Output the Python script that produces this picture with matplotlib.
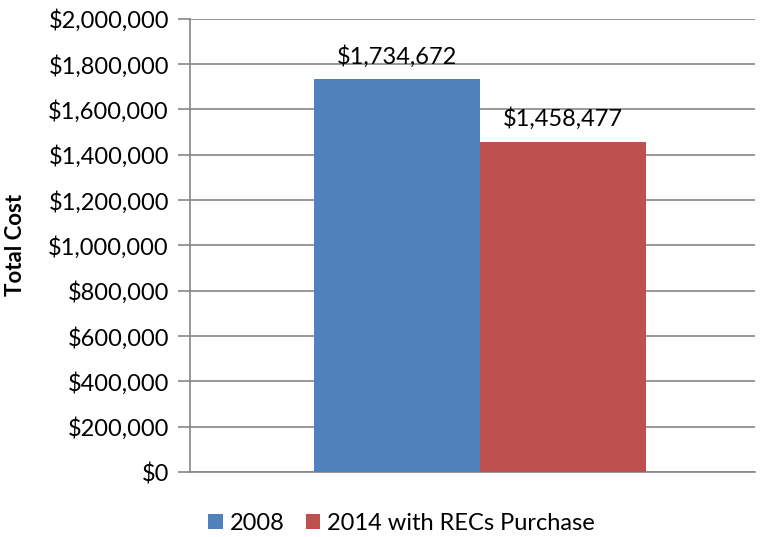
import matplotlib.pyplot as plt
from matplotlib.ticker import FuncFormatter

plt.rcParams['font.family'] = ['Lato', 'DejaVu Sans']

# Data
series = ['2008', '2014 with RECs Purchase']
costs = [1734672, 1458477]
colors = ['#4F81BD', '#C0504D']
label_texts = ['$1,734,672', '$1,458,477']

fig = plt.figure(figsize=(7.62, 5.37), dpi=100)
ax = fig.add_axes([0.249, 0.121, 0.742, 0.844])

positions = [0.366, 0.660]
width = 0.294
for pos, val, col, name, txt in zip(positions, costs, colors, series, label_texts):
    ax.bar(pos, val, width=width, color=col, label=name, zorder=3)
    ax.text(pos, val + 50000, txt, ha='center', va='bottom', fontsize=17, zorder=4)

ax.set_xlim(0, 1)
ax.set_ylim(0, 2000000)
ax.set_yticks(range(0, 2000001, 200000))
ax.yaxis.set_major_formatter(FuncFormatter(lambda v, p: '${:,.0f}'.format(v)))
ax.set_xticks([])
ax.tick_params(axis='y', labelsize=17, length=9, color='#868686', width=1.2, pad=6)
ax.grid(axis='y', color='#868686', linewidth=1.2, zorder=0)
for s in ['top', 'right']:
    ax.spines[s].set_visible(False)
for s in ['left', 'bottom']:
    ax.spines[s].set_color('#868686')
    ax.spines[s].set_linewidth(1.2)

ax.set_ylabel('Total Cost', fontsize=16, fontweight='bold')
ax.yaxis.set_label_coords(-0.29, 0.5)

fig.legend(loc='center', bbox_to_anchor=(0.527, 0.026), ncol=2, frameon=False,
           fontsize=17, handlelength=0.6, handleheight=0.6, handletextpad=0.3,
           columnspacing=0.9)

fig.savefig('out.png', dpi=100)
